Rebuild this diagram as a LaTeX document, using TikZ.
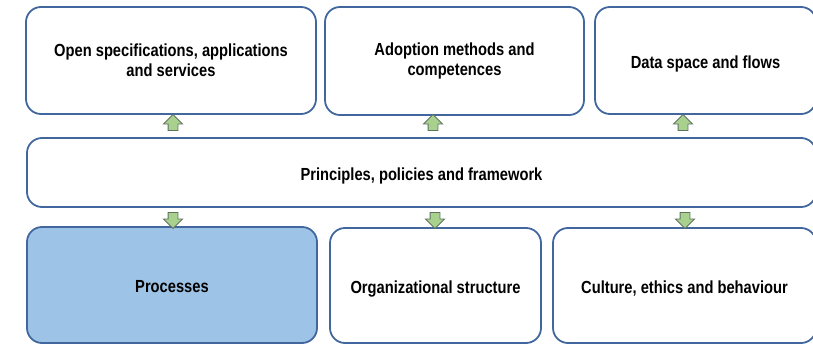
\documentclass[tikz,border=0pt]{standalone}
\usepackage{fontspec}
\setmainfont{Liberation Sans}[FakeStretch=0.84]
\usetikzlibrary{shapes.arrows}

\definecolor{boxline}{HTML}{41679E}
\definecolor{procfill}{HTML}{9DC3E6}
\definecolor{arrowfill}{HTML}{A9D18E}
\definecolor{arrowline}{HTML}{5F7360}

\begin{document}
\begin{tikzpicture}[x=1pt, y=-1pt,
    area/.style={draw=boxline, fill=white, line width=1.8pt, rounded corners=15pt,
                 align=center, font=\fontsize{17.5}{20}\selectfont\bfseries},
    oneline/.style={text height=19pt, text depth=3.5pt},
    blockarrow/.style={single arrow, draw=arrowline, fill=arrowfill, line width=0.9pt,
                       minimum height=16pt, inner xsep=0pt, inner ysep=4.5pt,
                       single arrow head extend=4.5pt}]
      \useasboundingbox (0,0) rectangle (813,347);

      % top row
      \node[area, minimum width=290pt, minimum height=107pt] (spec) at (171,60.5)
            {Open specifications, applications\\and services};
      \node[area, minimum width=259pt, minimum height=108pt] (adopt) at (454.5,61)
            {Adoption methods and\\competences};
      \node[area, oneline, minimum width=221pt, minimum height=107pt] (data) at (705.5,60.5)
            {Data space and flows};

      % middle layer
      \node[area, oneline, minimum width=789pt, minimum height=69pt] (frame) at (421.5,172.5)
            {Principles, policies and framework};

      % bottom row
      \node[area, oneline, fill=procfill, minimum width=290pt, minimum height=116pt] (proc) at (172,285)
            {Processes};
      \node[area, oneline, minimum width=211pt, minimum height=115pt] (org) at (435.5,285.5)
            {Organizational structure};
      \node[area, oneline, minimum width=263pt, minimum height=115pt] (cult) at (684.5,285.5)
            {Culture, ethics and behaviour};

      % arrows
      \node[blockarrow, rotate=90] (up1) at (173,125) {};
      \node[blockarrow, rotate=90] (up2) at (433,125) {};
      \node[blockarrow, rotate=90] (up3) at (683,125) {};

      \node[blockarrow, rotate=-90] (dn1) at (173,218) {};
      \node[blockarrow, rotate=-90] (dn2) at (435,218) {};
      \node[blockarrow, rotate=-90] (dn3) at (685,218) {};
    \end{tikzpicture}
\end{document}
